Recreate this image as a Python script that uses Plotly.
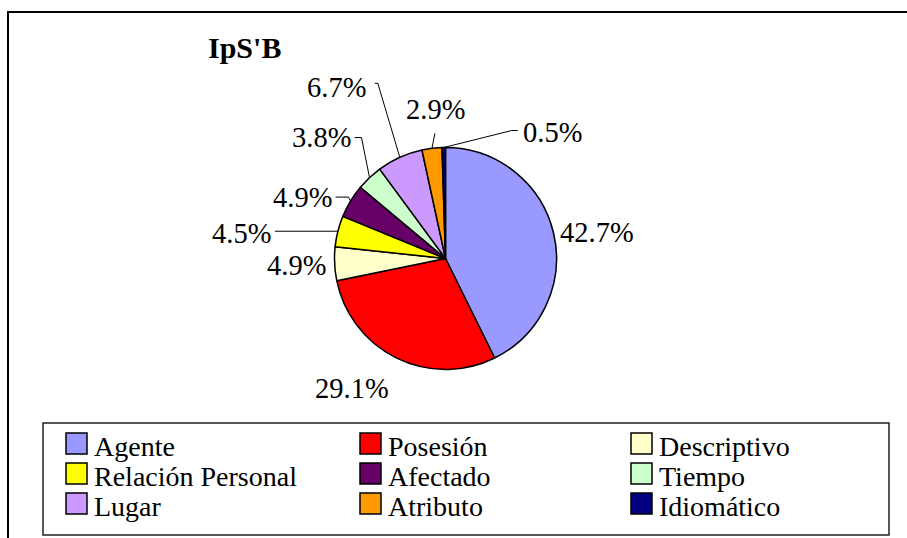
import math
import plotly.graph_objects as go

# Share of each genitive type (percent)
categories = ["Agente", "Posesión", "Descriptivo", "Relación Personal", "Afectado",
              "Tiempo", "Lugar", "Atributo", "Idiomático"]
shares = [42.7, 29.1, 4.9, 4.5, 4.9, 3.8, 6.7, 2.9, 0.5]
colors = ["#9999FF", "#FF0000", "#FFFFCC", "#FFFF00", "#660066",
          "#CCFFCC", "#CC99FF", "#FF9900", "#000080"]

W, H = 907, 538
CX, CY, R = 445.5, 258.5, 111.0          # pie centre and radius (pixels)
FONT = "Liberation Serif"

# label centre offset from the slice's outer mid point, and optional leader
# (leader start relative to label centre, length of the short horizontal elbow)
label_offsets = [(43, -1), (-45, 30), (-38, 2), (-96, 2), (-48, -4),
                 (-48, -40), (-63, -70), (4, -39), (109, -15)]
leaders = [None, None, None, ((33, -2), 0), ((33, 0), 13), ((33, 0), 7),
           ((38, -4), 3), ((-1, 24), 0), ((-35, -2), -6)]


def px(x):
    return x / W


def py(y):
    return 1 - y / H


fig = go.Figure()
fig.add_trace(go.Pie(
    labels=categories, values=shares, sort=False, direction="clockwise",
    rotation=0, textinfo="none", showlegend=False,
    marker=dict(colors=colors, line=dict(color="black", width=1.5)),
    domain=dict(x=[px(CX - R), px(CX + R)], y=[py(CY + R), py(CY - R)]),
))

shapes = []
annotations = []

# percentage labels with leader lines
total = sum(shares)
cum = 0.0
for i, v in enumerate(shares):
    mid = (cum + v / 2) / total * 2 * math.pi
    cum += v
    ex = CX + R * math.sin(mid)
    ey = CY - R * math.cos(mid)
    lx, ly = ex + label_offsets[i][0], ey + label_offsets[i][1]
    annotations.append(dict(
        x=px(lx), y=py(ly), xref="paper", yref="paper", text=f"{v:.1f}%",
        showarrow=False, xanchor="center", yanchor="middle",
        font=dict(family=FONT, size=28.5, color="black")))
    if leaders[i] is not None:
        (sx, sy), elbow = leaders[i]
        x0, y0 = lx + sx, ly + sy
        x1 = x0 + elbow
        pts = [(x0, y0), (x1, y0), (ex, ey)]
        for (a, b), (c, d) in zip(pts[:-1], pts[1:]):
            if (a, b) == (c, d):
                continue
            shapes.append(dict(type="line", xref="paper", yref="paper",
                               x0=px(a), y0=py(b), x1=px(c), y1=py(d),
                               line=dict(color="black", width=1)))

# outer chart frame
shapes.append(dict(type="rect", xref="paper", yref="paper",
                   x0=px(8), y0=py(580), x1=px(940), y1=py(12),
                   line=dict(color="black", width=2)))

# legend box and entries
shapes.append(dict(type="rect", xref="paper", yref="paper",
                   x0=px(43), y0=py(535), x1=px(889), y1=py(423),
                   line=dict(color="#222222", width=1.5)))
col_x = [66, 360, 631]
row_y = [444, 474, 504]
sw = 21
for i, (cat, col) in enumerate(zip(categories, colors)):
    r, c = divmod(i, 3)
    x0 = col_x[c]
    yc = row_y[r]
    shapes.append(dict(type="rect", xref="paper", yref="paper",
                       x0=px(x0), x1=px(x0 + sw), y0=py(yc + sw / 2 - 0.5),
                       y1=py(yc - sw / 2 - 0.5), fillcolor=col,
                       line=dict(color="black", width=1.5)))
    annotations.append(dict(
        x=px(x0 + sw + 5), y=py(yc + 2), xref="paper", yref="paper", text=cat,
        showarrow=False, xanchor="left", yanchor="middle",
        font=dict(family=FONT, size=28, color="black")))

# chart title
annotations.append(dict(
    x=px(206), y=py(48), xref="paper", yref="paper", text="<b>IpS'B</b>",
    showarrow=False, xanchor="left", yanchor="middle",
    font=dict(family=FONT, size=30, color="black")))

fig.update_layout(
    width=W, height=H, margin=dict(l=0, r=0, t=0, b=0),
    paper_bgcolor="white", plot_bgcolor="white",
    shapes=shapes, annotations=annotations,
)

fig.write_html("out.html")
